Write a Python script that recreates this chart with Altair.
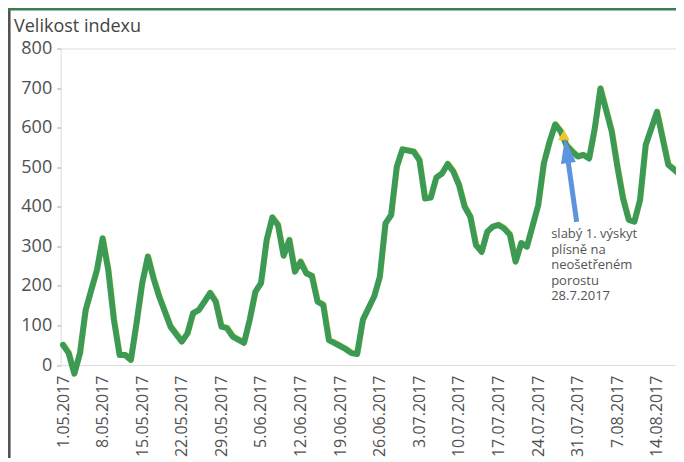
import altair as alt
import pandas as pd

# ---- data ----
dates = [
    "2017-05-01", "2017-05-02", "2017-05-03", "2017-05-04", "2017-05-05", "2017-05-06",
    "2017-05-07", "2017-05-08", "2017-05-09", "2017-05-10", "2017-05-11", "2017-05-12",
    "2017-05-13", "2017-05-14", "2017-05-15", "2017-05-16", "2017-05-17", "2017-05-18",
    "2017-05-20", "2017-05-22", "2017-05-23", "2017-05-24", "2017-05-25", "2017-05-26",
    "2017-05-27", "2017-05-28", "2017-05-29", "2017-05-30", "2017-05-31", "2017-06-02",
    "2017-06-03", "2017-06-04", "2017-06-05", "2017-06-06", "2017-06-07", "2017-06-08",
    "2017-06-09", "2017-06-10", "2017-06-11", "2017-06-12", "2017-06-13", "2017-06-14",
    "2017-06-15", "2017-06-16", "2017-06-17", "2017-06-19", "2017-06-20", "2017-06-21",
    "2017-06-22", "2017-06-23", "2017-06-25", "2017-06-26", "2017-06-27", "2017-06-28",
    "2017-06-29", "2017-06-30", "2017-07-02", "2017-07-03", "2017-07-04", "2017-07-05",
    "2017-07-06", "2017-07-07", "2017-07-08", "2017-07-09", "2017-07-10", "2017-07-11",
    "2017-07-12", "2017-07-13", "2017-07-14", "2017-07-15", "2017-07-16", "2017-07-17",
    "2017-07-18", "2017-07-19", "2017-07-20", "2017-07-21", "2017-07-22", "2017-07-24",
    "2017-07-25", "2017-07-26", "2017-07-27", "2017-07-28", "2017-07-29", "2017-07-30",
    "2017-07-31", "2017-08-01", "2017-08-02", "2017-08-03", "2017-08-04", "2017-08-06",
    "2017-08-07", "2017-08-08", "2017-08-09", "2017-08-10", "2017-08-11", "2017-08-12",
    "2017-08-14", "2017-08-15", "2017-08-16", "2017-08-18",
]
values = [
    51, 30, -22, 30, 139, 190,
    240, 320, 240, 114, 25, 25,
    13, 106, 207, 274, 219, 173,
    97, 59, 80, 131, 139, 160,
    182, 160, 97, 93, 72, 56,
    114, 185, 207, 316, 373, 354,
    276, 316, 236, 261, 232, 225,
    160, 152, 63, 48, 40, 30,
    28, 114, 173, 223, 358, 379,
    501, 545, 539, 518, 421, 423,
    474, 484, 508, 489, 455, 400,
    375, 303, 286, 337, 350, 354,
    345, 329, 261, 308, 299, 404,
    510, 564, 608, 590, 555, 540,
    527, 531, 522, 598, 699, 590,
    501, 421, 367, 362, 417, 556,
    640, 573, 506, 482,
]

tick_days = [(5, 1), (5, 8), (5, 15), (5, 22), (5, 29), (6, 5), (6, 12), (6, 19),
             (6, 26), (7, 3), (7, 10), (7, 17), (7, 24), (7, 31), (8, 7), (8, 14)]
y_ticks = [0, 100, 200, 300, 400, 500, 600, 700, 800]

note_text = "slabý 1. výskyt\nplísně na\nneošetřeném\nporostu\n28.7.2017"
note_date = ["2017-07-26T07:00:00"]
note_value = [321]
marker_date = ["2017-07-28T13:30:00"]
marker_value = [581]
arrow_from_date = ["2017-07-30T19:12:00"]
arrow_from_value = [362]
arrow_to_date = ["2017-07-29T00:45:00"]
arrow_to_value = [542]

title_text = "Velikost indexu"

# ---- tables ----
series = pd.DataFrame({"date": [d + "T00:00:00" for d in dates], "value": values})
note_df = pd.DataFrame({"date": note_date, "value": note_value, "text": [note_text]})
marker_df = pd.DataFrame({"date": marker_date, "value": marker_value})
arrow_df = pd.DataFrame({"date": arrow_from_date, "value": arrow_from_value,
                         "date2": arrow_to_date, "value2": arrow_to_value})
head_df = pd.DataFrame({"date": arrow_to_date, "value": arrow_to_value})
one = pd.DataFrame({"k": [0]})

FONT = "Open Sans"
GRAY = "#505050"

PLOT_W = 615.3
PLOT_H = 316.5

x_scale = alt.Scale(domain=[alt.DateTime(year=2017, month=4, date=30, hours=14, minutes=14),
                            alt.DateTime(year=2017, month=8, date=17, hours=8, minutes=38)])
y_scale = alt.Scale(domain=[0, 800], nice=False, zero=False)

x_axis = alt.Axis(
    title=None,
    values=[alt.DateTime(year=2017, month=m, date=d) for m, d in tick_days],
    labelExpr="timeFormat(datum.value, '%-d.%m.%Y')",
    labelAngle=270, labelFont=FONT, labelFontSize=16, labelColor=GRAY,
    labelPadding=10, ticks=False, tickSize=0, domain=False, grid=False,
    labelOverlap=False, labelBound=False, labelFlush=False,
)
y_axis = alt.Axis(
    title=None, values=y_ticks, labelFont=FONT, labelFontSize=18, labelColor=GRAY,
    labelPadding=5, ticks=True, tickSize=4, tickColor="#aaaaaa", domain=False, grid=False,
    labelOverlap=False, labelBound=False, labelFlush=False,
)

# identical axis definitions on every layer so that merged axes keep all settings
X = alt.X("date:T", scale=x_scale, axis=x_axis)
Y = alt.Y("value:Q", scale=y_scale, axis=y_axis)

base = alt.Chart(series)

fringe = base.mark_line(color="#dfe35a", strokeWidth=5, xOffset=0.8, yOffset=-0.8,
                        opacity=0.8, strokeJoin="round", strokeCap="round").encode(x=X, y=Y)
line = base.mark_line(color="#3c9a55", strokeWidth=6, strokeJoin="round",
                      strokeCap="round").encode(x=X, y=Y)

marker = alt.Chart(marker_df).mark_point(shape="triangle-up", filled=True, size=140,
                                         color="#f2c530", opacity=1).encode(x=X, y=Y)

shaft = alt.Chart(arrow_df).mark_rule(color="#5e93e0", strokeWidth=5).encode(
    x=X, y=Y, x2="date2:T", y2="value2:Q")

head = alt.Chart(head_df).mark_point(shape="M0,-1L0.6,1L-0.6,1Z", filled=True, size=625,
                                     angle=352, color="#5e93e0", opacity=1).encode(x=X, y=Y)

note = alt.Chart(note_df).mark_text(align="left", baseline="alphabetic", font=FONT,
                                    fontSize=13, lineHeight=15.5, lineBreak="\n",
                                    color="#555555").encode(x=X, y=Y, text="text:N")

title = alt.Chart(one).mark_text(text=title_text, align="left", baseline="alphabetic",
                                 font=FONT, fontSize=18, color="#444444").encode(
    x=alt.value(-46.7), y=alt.value(-16.5))

left_border = alt.Chart(one).mark_rule(color="#4d4d4d", strokeWidth=2.5).encode(
    x=alt.value(-51.4), y=alt.value(-40.5), y2=alt.value(410))
top_border = alt.Chart(one).mark_rule(color="#3b7d4f", strokeWidth=3).encode(
    y=alt.value(-39.5), x=alt.value(-52.7), x2=alt.value(PLOT_W))

chart = alt.layer(
    left_border, top_border, title, fringe, line, marker, shaft, head, note
).properties(
    width=PLOT_W, height=PLOT_H,
    autosize=alt.AutoSizeParams(type="none"),
    padding={"left": 52.7, "top": 40.5, "right": 0, "bottom": 93},
).configure_view(stroke="#c8c8c8", strokeWidth=1).configure(background="white")

chart.save("out.html", embed_options={"renderer": "svg", "actions": False})
